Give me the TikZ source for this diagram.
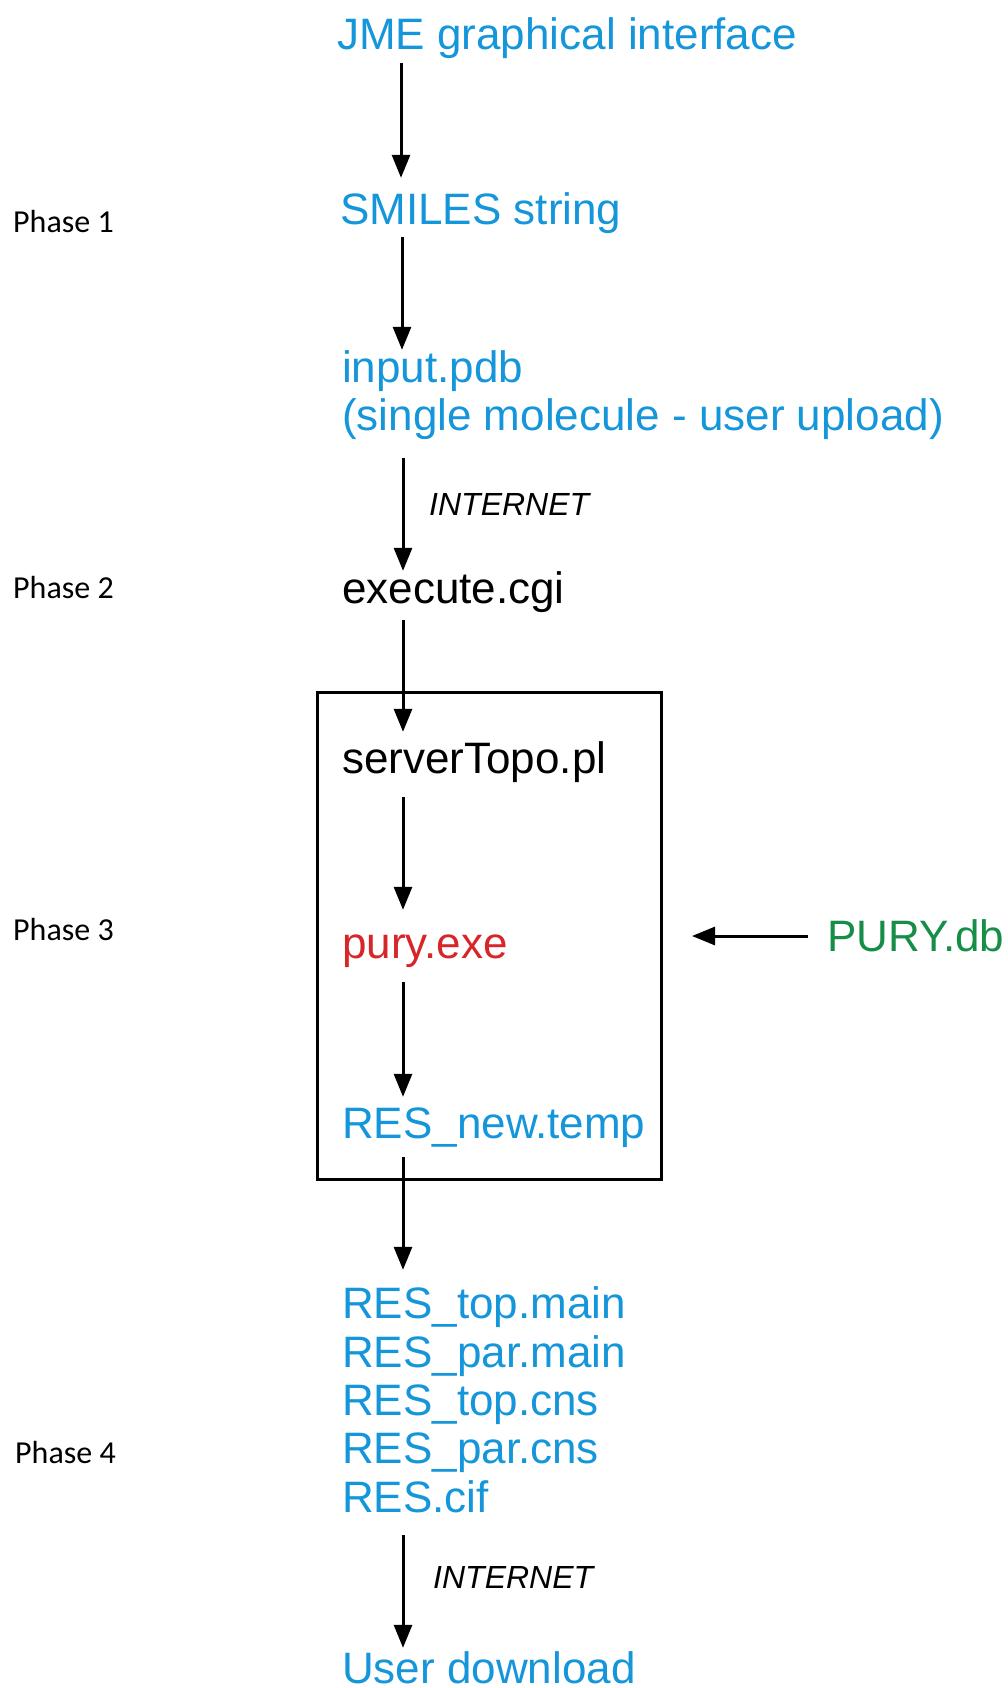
\documentclass[tikz,border=0pt]{standalone}
\usepackage{fontspec}
\setmainfont{Liberation Sans}
\newfontfamily\phasefont{Carlito}
\usetikzlibrary{arrows.meta}
\definecolor{tblue}{RGB}{22,150,218}
\definecolor{tred}{RGB}{215,38,42}
\definecolor{tgreen}{RGB}{22,142,72}
\begin{document}
\begin{tikzpicture}[x=1pt,y=-1pt,
  lbl/.style={anchor=base west, inner sep=0pt, text height=31pt, text depth=9pt, font=\fontsize{44}{50}\selectfont},
  bluetxt/.style={lbl, text=tblue},
  phase/.style={anchor=base west, inner sep=0pt, font=\phasefont\fontsize{32}{38}\selectfont},
  net/.style={anchor=base west, inner sep=0pt, font=\itshape\fontsize{32}{38}\selectfont},
  arr/.style={line width=3pt, -{Triangle[length=23pt,width=18pt]}}]
\useasboundingbox (0,0) rectangle (1007,1688);
% process box
\node (box) [draw, line width=3pt, anchor=north west, minimum width=344pt, minimum height=487pt, inner sep=0pt] at (316,691) {};
% texts
\node (jme) [bluetxt] at (337,50) {JME graphical interface};
\node (smiles) [bluetxt] at (340,225) {SMILES string};
\node (input) [bluetxt] at (342,382) {input.pdb};
\node (note) [bluetxt] at (342,430) {(single molecule - user upload)};
\node (exec) [lbl] at (342,603) {execute.cgi};
\node (server) [lbl] at (342,773) {serverTopo.pl};
\node (pury) [lbl, text=tred] at (342,958) {pury.exe};
\node (purydb) [lbl, text=tgreen] at (827,951) {PURY.db};
\node (resnew) [bluetxt] at (342,1138) {RES\_new.temp};
\node (restopm) [bluetxt] at (342,1318) {RES\_top.main};
\node (resparm) [bluetxt] at (342,1367) {RES\_par.main};
\node (restopc) [bluetxt] at (342,1415) {RES\_top.cns};
\node (resparc) [bluetxt] at (342,1463) {RES\_par.cns};
\node (rescif) [bluetxt] at (342,1512) {RES.cif};
\node (user) [bluetxt] at (342,1683) {User download};
% phase labels
\node (p1) [phase] at (13,233) {Phase 1};
\node (p2) [phase] at (13,598) {Phase 2};
\node (p3) [phase] at (13,940) {Phase 3};
\node (p4) [phase] at (15,1463) {Phase 4};
% internet labels
\node (net1) [net] at (429,515) {INTERNET};
\node (net2) [net] at (433,1588) {INTERNET};
% axis coordinates
\coordinate (a1) at (401,0);
\coordinate (a2) at (402,0);
\coordinate (a3) at (403,0);
% connectors
\draw[arr, shorten <=4pt, shorten >=16pt] (jme.south -| a1) -- (smiles.north -| a1);
\draw[arr, shorten <=3pt, shorten >=1pt] (smiles.south -| a2) -- (input.north -| a2);
\draw[arr, shorten <=19pt, shorten >=1pt] (note.south -| a3) -- (exec.north -| a3);
\draw[arr, shorten <=8pt, shorten >=10pt] (exec.south -| a3) -- (server.north -| a3);
\draw[arr, shorten <=15pt, shorten >=17pt] (server.south -| a3) -- (pury.north -| a3);
\draw[arr, shorten <=15pt, shorten >=10pt] (pury.south -| a3) -- (resnew.north -| a3);
\draw[arr, shorten <=10pt, shorten >=17pt] (resnew.south -| a3) -- (restopm.north -| a3);
\draw[arr, shorten <=14pt, shorten >=4pt] (rescif.south -| a3) -- (user.north -| a3);
\draw[arr, shorten <=19pt, shorten >=29pt] ([yshift=4pt]purydb.west) -- ([yshift=4pt]purydb.west -| box.east);
\end{tikzpicture}
\end{document}
